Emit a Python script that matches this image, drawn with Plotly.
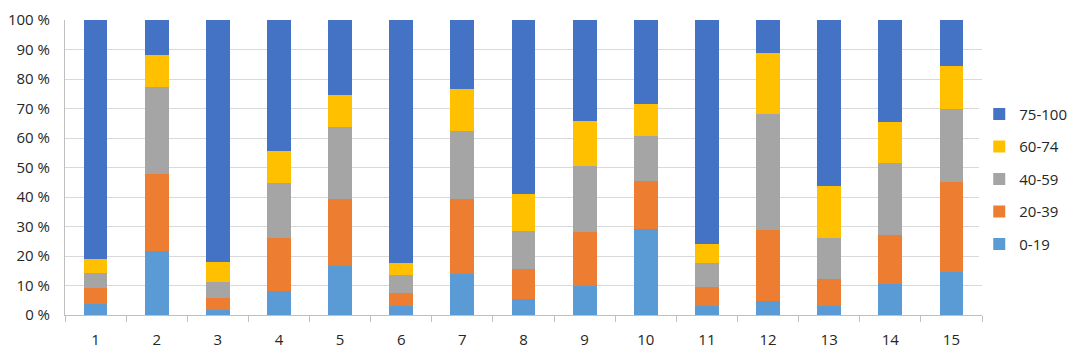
import plotly.graph_objects as go

categories = [str(i) for i in range(1, 16)]
series_names = ["0-19", "20-39", "40-59", "60-74", "75-100"]
v_0_19 = [3.7, 21.8, 1.7, 8.1, 16.7, 3.1, 13.8, 5.4, 9.9, 29.3, 3.2, 4.6, 3.1, 10.4, 14.6]
v_20_39 = [5.3, 26.0, 3.9, 18.1, 22.5, 4.2, 25.4, 10.2, 18.1, 16.1, 6.2, 24.3, 9.0, 16.8, 30.5]
v_40_59 = [5.1, 29.4, 5.7, 18.7, 24.4, 6.1, 23.2, 13.0, 22.6, 15.4, 8.1, 39.3, 13.9, 24.3, 24.7]
v_60_74 = [4.8, 10.8, 6.8, 10.8, 11.0, 4.3, 14.2, 12.3, 15.0, 10.6, 6.5, 20.5, 17.8, 14.0, 14.6]
v_75_100 = [81.1, 12.0, 81.9, 44.3, 25.4, 82.3, 23.4, 59.1, 34.4, 28.6, 76.0, 11.3, 56.2, 34.5, 15.6]
colors = ["#5B9BD5", "#ED7D31", "#A5A5A5", "#FFC000", "#4472C4"]

series = [v_0_19, v_20_39, v_40_59, v_60_74, v_75_100]

fig = go.Figure()
for i, (name, vals, col) in enumerate(zip(series_names, series, colors)):
    fig.add_trace(go.Bar(
        x=categories, y=vals, name=name, legendgroup=name,
        legendrank=1000 - i,
        marker=dict(color=col, line=dict(width=0)),
    ))

font = "Open Sans, Liberation Sans, sans-serif"
fig.update_layout(
    barmode="stack",
    bargap=0.61,
    width=1084, height=351,
    margin=dict(l=57, r=110, t=12, b=44, autoexpand=False),
    plot_bgcolor="white", paper_bgcolor="white",
    font=dict(family=font, size=14, color="#262626"),
    legend=dict(
        traceorder="grouped", tracegroupgap=10,
        x=0.997, xanchor="left", y=0.46, yanchor="middle",
        font=dict(size=15, color="#262626"),
        itemwidth=30,
    ),
    xaxis=dict(
        type="category", tickson="boundaries", ticks="outside", ticklen=6,
        tickcolor="#BFBFBF", showline=True, linecolor="#BFBFBF", linewidth=1,
        showgrid=False, tickfont=dict(size=15, color="#262626"),
        automargin=False, ticklabelstandoff=11,
    ),
    yaxis=dict(
        range=[0, 100], dtick=10, ticksuffix=" %", showgrid=True,
        gridcolor="#D9D9D9", gridwidth=1, showline=True, linecolor="#BFBFBF",
        ticks="", ticklabelstandoff=11, zeroline=False,
        tickfont=dict(size=15, color="#262626"), automargin=False,
    ),
)

fig.write_html("out.html")
